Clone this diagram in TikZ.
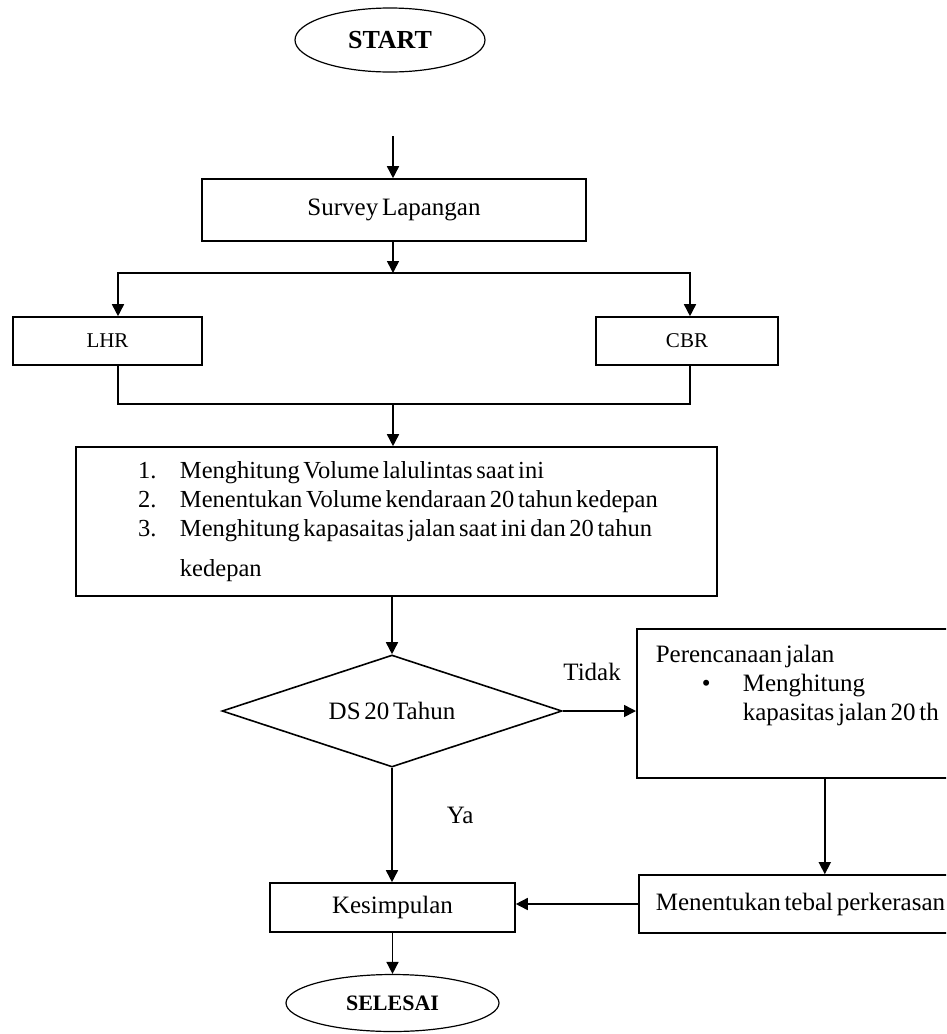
\documentclass[tikz,border=0pt]{standalone}
\usepackage{fontspec}
\setmainfont{Liberation Serif}[WordSpace=0.6]
\usetikzlibrary{arrows.meta, positioning, shapes.geometric}
\newcommand{\tightspace}{\spaceskip=0pt\xspaceskip=0pt\relax}

\begin{document}
\begin{tikzpicture}[
  x=1pt, y=-1pt,
  box/.style={draw, line width=1.6pt, inner sep=0pt, font=\fontsize{25}{29}\selectfont},
  term/.style={draw, ellipse, line width=1.2pt, inner sep=0pt, font=\bfseries\fontsize{26}{30}\selectfont},
  decision/.style={draw, diamond, aspect=3, line width=1.6pt, inner sep=0pt,
    minimum width=340pt, minimum height=112pt, font=\fontsize{25}{29}\selectfont},
  arr/.style={-{Triangle[length=12pt, width=12pt]}, line width=1.6pt},
  link/.style={line width=1.6pt},
  lbl/.style={inner sep=0pt, font=\fontsize{25}{29}\selectfont}
]
\useasboundingbox (0,0) rectangle (946,1034);
\fill[white] (0,0) rectangle (946,1034);
\clip (0,0) rectangle (946,1034);

\node[term, minimum width=190pt, minimum height=64pt] (start) at (390,40) {START};
\coordinate (startgap) at (393,136);
\node[box, minimum width=384pt, minimum height=62pt] (survey) at (394,210) {Survey Lapangan};
\coordinate (split) at (393,273);
\node[box, minimum width=189pt, minimum height=48pt, font=\fontsize{21}{25}\selectfont] (lhr) at (107.5,341) {LHR};
\node[box, minimum width=182pt, minimum height=48pt, font=\fontsize{21}{25}\selectfont] (cbr) at (687,341) {CBR};
\coordinate (merge) at (393,404);
\node[box, minimum width=641pt, minimum height=149pt, text width=641pt, align=left, font=\fontsize{24.5}{29}\selectfont] (tasks) at (396.5,521.5) {\tightspace
  \hspace*{62pt}\makebox[42pt][l]{1.}Menghitung Volume lalulintas saat ini\\
  \hspace*{62pt}\makebox[42pt][l]{2.}Menentukan Volume kendaraan 20 tahun kedepan\\
  \hspace*{62pt}\makebox[42pt][l]{3.}Menghitung kapasaitas jalan saat ini dan 20 tahun\\[11pt]
  \hspace*{104pt}kedepan};
\node[decision] (ds) at (392,711) {DS 20 Tahun};
\node[box, anchor=north west, minimum width=376pt, minimum height=149pt, inner xsep=19pt, inner ysep=16pt] (plan) at (636,628) {%
  \parbox[t][117pt][t]{338pt}{\raggedright
  Perencanaan jalan\\
  \hspace*{46pt}\makebox[41pt][l]{\textbullet}Menghitung\\
  \hspace*{87pt}kapasitas jalan 20 th}};
\node[box, anchor=west, minimum width=372pt, minimum height=58pt, text width=338pt, inner xsep=17pt, align=left] (tebal) at (638,904) {\tightspace Menentukan tebal perkerasan};
\node[box, minimum width=245pt, minimum height=49pt] (kesimp) at (392.5,907.5) {Kesimpulan};
\node[term, minimum width=213pt, minimum height=57pt, font=\bfseries\fontsize{22}{26}\selectfont] (selesai) at (392.5,1003) {SELESAI};

\draw[arr] (startgap) -- (startgap |- survey.north);
\draw[arr] (survey.south -| split) -- (split);
\draw[arr] (split) -| ([xshift=10.5pt]lhr.north);
\draw[arr] (split) -| ([xshift=3pt]cbr.north);
\draw[link] ([xshift=10.5pt]lhr.south) |- (merge) -| ([xshift=3pt]cbr.south);
\draw[arr] (merge) -- (merge |- tasks.north);
\draw[arr] (tasks.south -| ds.north) -- (ds.north);
\draw[arr] (ds.east) -- node[lbl, above=29pt, pos=0.4] {Tidak} (ds.east -| plan.west);
\draw[arr] (ds.south) -- node[lbl, right=54pt, pos=0.42] {Ya} (ds.south |- kesimp.north);
\draw[arr] (plan.south) -- (tebal.north);
\draw[arr] (tebal.west) -- (tebal.west -| kesimp.east);
\draw[arr] (kesimp.south) -- (selesai.north);
\end{tikzpicture}
\end{document}
